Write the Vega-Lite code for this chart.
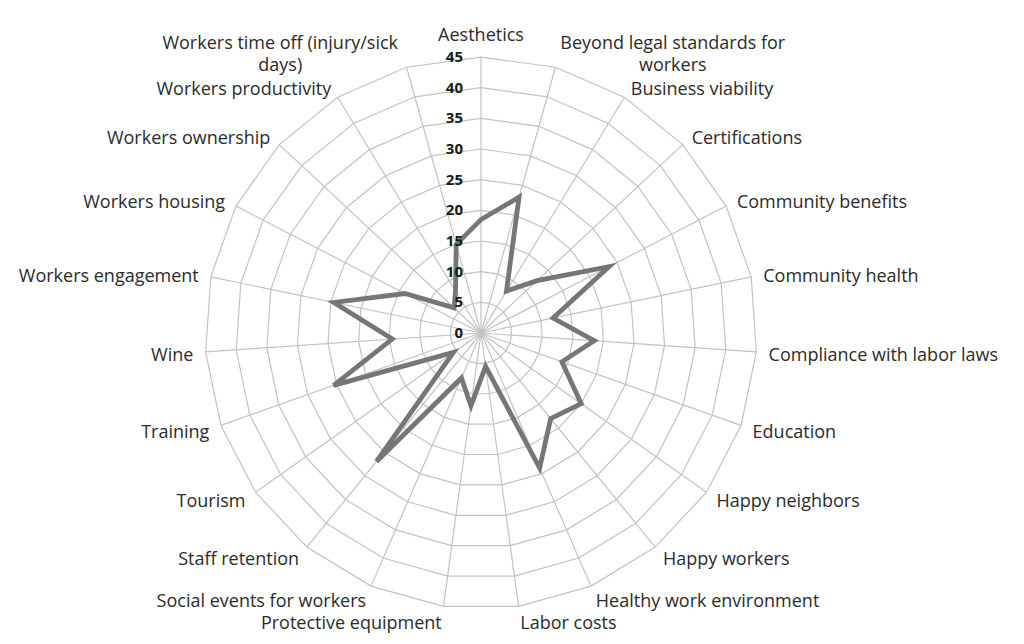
{
  "$schema": "https://vega.github.io/schema/vega-lite/v6.json",
  "width": 1024,
  "height": 644,
  "autosize": {"type": "none"},
  "padding": 0,
  "background": "white",
  "config": {"view": {"stroke": null}, "text": {"font": "Open Sans", "color": "#2b2b2b"}},
  "datasets": {
    "cats": [
      {"cat": "Aesthetics", "value": 18.5},
      {"cat": "Beyond legal standards for workers", "value": 23},
      {"cat": "Business viability", "value": 8},
      {"cat": "Certifications", "value": 12.5},
      {"cat": "Community benefits", "value": 23.5},
      {"cat": "Community health", "value": 12},
      {"cat": "Compliance with labor laws", "value": 18.5},
      {"cat": "Education", "value": 14},
      {"cat": "Happy neighbors", "value": 20},
      {"cat": "Happy workers", "value": 18},
      {"cat": "Healthy work environment", "value": 24},
      {"cat": "Labor costs", "value": 5.5},
      {"cat": "Protective equipment", "value": 12},
      {"cat": "Social events for workers", "value": 8},
      {"cat": "Staff retention", "value": 27},
      {"cat": "Tourism", "value": 5.5},
      {"cat": "Training", "value": 25.5},
      {"cat": "Wine", "value": 14.5},
      {"cat": "Workers engagement", "value": 24.5},
      {"cat": "Workers housing", "value": 14},
      {"cat": "Workers ownership", "value": 6},
      {"cat": "Workers productivity", "value": 8},
      {"cat": "Workers time off (injury/sick days)", "value": 15}
    ],
    "ticks": [
      {"t": 0}, {"t": 5}, {"t": 10}, {"t": 15}, {"t": 20},
      {"t": 25}, {"t": 30}, {"t": 35}, {"t": 40}, {"t": 45}
    ]
  },
  "data": {"name": "cats"},
  "encoding": {
    "x": {"field": "px", "type": "quantitative", "axis": null,
          "scale": {"domain": [-78.43, 88.54], "nice": false, "zero": false}},
    "y": {"field": "py", "type": "quantitative", "axis": null,
          "scale": {"domain": [-50.71, 54.30], "nice": false, "zero": false}}
  },
  "layer": [
    {
      "transform": [
        {"window": [{"op": "row_number", "as": "rn"}]},
        {"calculate": "(datum.rn - 1) * 2 * PI / 23", "as": "th"},
        {"calculate": "[5, 10, 15, 20, 25, 30, 35, 40, 45]", "as": "lv"},
        {"flatten": ["lv"]},
        {"calculate": "datum.lv * sin(datum.th)", "as": "px"},
        {"calculate": "datum.lv * cos(datum.th)", "as": "py"}
      ],
      "mark": {"type": "line", "interpolate": "linear-closed", "color": "#c2c2c2", "strokeWidth": 1.2},
      "encoding": {
        "detail": {"field": "lv", "type": "nominal"},
        "order": {"field": "rn", "type": "quantitative"}
      }
    },
    {
      "transform": [
        {"window": [{"op": "row_number", "as": "rn"}]},
        {"calculate": "(datum.rn - 1) * 2 * PI / 23", "as": "th"},
        {"calculate": "45 * sin(datum.th)", "as": "px"},
        {"calculate": "45 * cos(datum.th)", "as": "py"}
      ],
      "mark": {"type": "rule", "color": "#c2c2c2", "strokeWidth": 1.2},
      "encoding": {
        "x2": {"datum": 0},
        "y2": {"datum": 0}
      }
    },
    {
      "transform": [
        {"window": [{"op": "row_number", "as": "rn"}]},
        {"calculate": "(datum.rn - 1) * 2 * PI / 23", "as": "th"},
        {"calculate": "datum.value * sin(datum.th)", "as": "px"},
        {"calculate": "datum.value * cos(datum.th)", "as": "py"}
      ],
      "mark": {"type": "line", "interpolate": "linear-closed", "color": "#767676", "strokeWidth": 4.8, "strokeJoin": "miter"},
      "encoding": {
        "order": {"field": "rn", "type": "quantitative"}
      }
    },
    {
      "data": {"name": "ticks"},
      "transform": [
        {"calculate": "0", "as": "px"},
        {"calculate": "datum.t", "as": "py"}
      ],
      "mark": {"type": "text", "align": "right", "baseline": "middle", "dx": -18, "fontSize": 15, "fontWeight": "bold", "color": "#1a1a1a"},
      "encoding": {"text": {"field": "t", "type": "quantitative"}}
    },
    {
      "transform": [
        {"window": [{"op": "row_number", "as": "rn"}]},
        {"calculate": "(datum.rn - 1) * 2 * PI / 23", "as": "th"},
        {"calculate": "47 * sin(datum.th)", "as": "px"},
        {"calculate": "47 * cos(datum.th)", "as": "py"},
        {"filter": "sin(datum.th) > 0.05 && cos(datum.th) > -0.9 && datum.rn != 2"}
      ],
      "mark": {"type": "text", "align": "left", "baseline": "middle", "fontSize": 18, "dy": 3},
      "encoding": {"text": {"field": "cat", "type": "nominal"}}
    },
    {
      "transform": [
        {"window": [{"op": "row_number", "as": "rn"}]},
        {"calculate": "(datum.rn - 1) * 2 * PI / 23", "as": "th"},
        {"calculate": "47 * sin(datum.th)", "as": "px"},
        {"calculate": "47 * cos(datum.th)", "as": "py"},
        {"filter": "sin(datum.th) < -0.05 && cos(datum.th) > -0.9 && datum.rn != 23"}
      ],
      "mark": {"type": "text", "align": "right", "baseline": "middle", "fontSize": 18, "dy": 3},
      "encoding": {"text": {"field": "cat", "type": "nominal"}}
    },
    {
      "transform": [
        {"window": [{"op": "row_number", "as": "rn"}]},
        {"calculate": "(datum.rn - 1) * 2 * PI / 23", "as": "th"},
        {"calculate": "47 * sin(datum.th)", "as": "px"},
        {"calculate": "47 * cos(datum.th)", "as": "py"},
        {"filter": "datum.rn == 1"}
      ],
      "mark": {"type": "text", "align": "center", "baseline": "bottom", "fontSize": 18},
      "encoding": {"text": {"field": "cat", "type": "nominal"}}
    },
    {
      "transform": [
        {"window": [{"op": "row_number", "as": "rn"}]},
        {"calculate": "(datum.rn - 1) * 2 * PI / 23", "as": "th"},
        {"calculate": "47 * sin(datum.th)", "as": "px"},
        {"calculate": "47 * cos(datum.th)", "as": "py"},
        {"filter": "sin(datum.th) > 0.05 && cos(datum.th) <= -0.9"}
      ],
      "mark": {"type": "text", "align": "left", "baseline": "top", "fontSize": 18, "dy": -4},
      "encoding": {"text": {"field": "cat", "type": "nominal"}}
    },
    {
      "transform": [
        {"window": [{"op": "row_number", "as": "rn"}]},
        {"calculate": "(datum.rn - 1) * 2 * PI / 23", "as": "th"},
        {"calculate": "47 * sin(datum.th)", "as": "px"},
        {"calculate": "47 * cos(datum.th)", "as": "py"},
        {"filter": "sin(datum.th) < -0.05 && cos(datum.th) <= -0.9"}
      ],
      "mark": {"type": "text", "align": "right", "baseline": "top", "fontSize": 18, "dy": -4},
      "encoding": {"text": {"field": "cat", "type": "nominal"}}
    },
    {
      "transform": [
        {"window": [{"op": "row_number", "as": "rn"}]},
        {"calculate": "(datum.rn - 1) * 2 * PI / 23", "as": "th"},
        {"calculate": "47 * sin(datum.th)", "as": "px"},
        {"calculate": "47 * cos(datum.th)", "as": "py"},
        {"filter": "datum.rn == 2"},
        {"calculate": "split(replace(datum.cat, 'for ', 'for|'), '|')", "as": "lbl"}
      ],
      "mark": {"type": "text", "align": "center", "baseline": "middle", "fontSize": 18, "dx": 114, "dy": -11, "lineHeight": 22},
      "encoding": {"text": {"field": "lbl"}}
    },
    {
      "transform": [
        {"window": [{"op": "row_number", "as": "rn"}]},
        {"calculate": "(datum.rn - 1) * 2 * PI / 23", "as": "th"},
        {"calculate": "47 * sin(datum.th)", "as": "px"},
        {"calculate": "47 * cos(datum.th)", "as": "py"},
        {"filter": "datum.rn == 23"},
        {"calculate": "split(replace(datum.cat, 'sick ', 'sick|'), '|')", "as": "lbl"}
      ],
      "mark": {"type": "text", "align": "center", "baseline": "middle", "fontSize": 18, "dx": -123, "dy": -11, "lineHeight": 22},
      "encoding": {"text": {"field": "lbl"}}
    }
  ]
}
